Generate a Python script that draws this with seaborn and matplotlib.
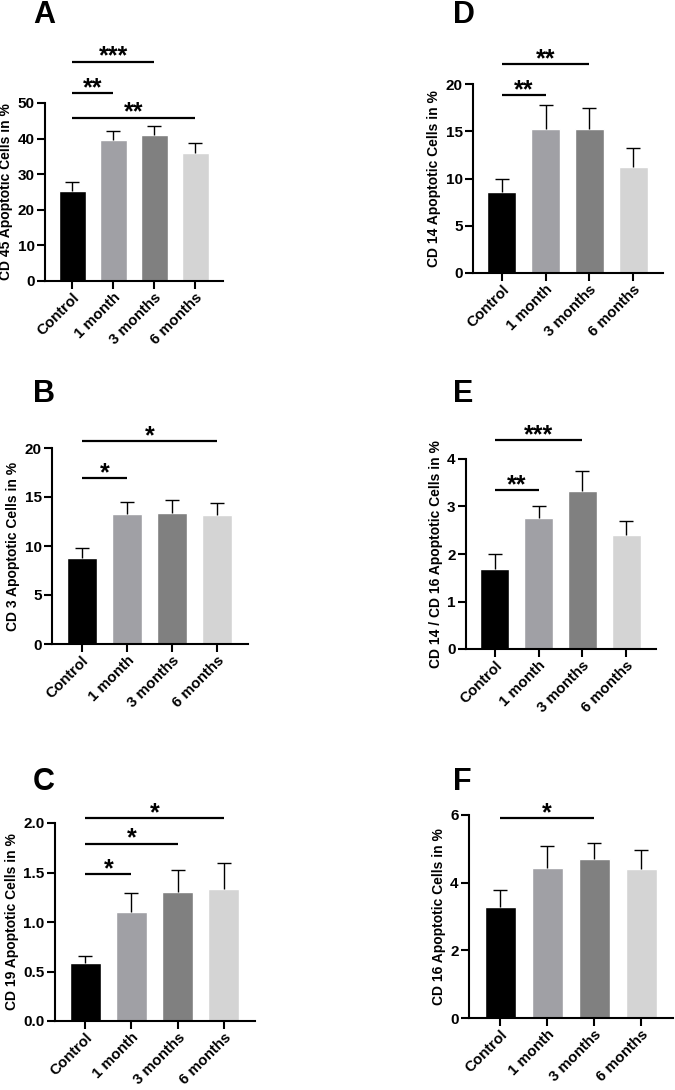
import numpy as np
import pandas as pd
import matplotlib
matplotlib.use('Agg')
import matplotlib.pyplot as plt
import seaborn as sns

## groups and colours
groups = ['Control', '1 month', '3 months', '6 months']
bar_colors = ['#000000', '#A0A0A5', '#808080', '#D4D4D4']

## means and upper error
cd45_mean = [25.4, 39.5, 41.0, 36.0]
cd45_err = [2.5, 2.7, 2.5, 2.7]
cd3_mean = [8.8, 13.3, 13.4, 13.2]
cd3_err = [1.0, 1.2, 1.3, 1.15]
cd19_mean = [0.585, 1.096, 1.30, 1.334]
cd19_err = [0.075, 0.195, 0.225, 0.266]
cd14_mean = [8.6, 15.2, 15.2, 11.2]
cd14_err = [1.4, 2.6, 2.3, 2.0]
cd1416_mean = [1.69, 2.76, 3.32, 2.40]
cd1416_err = [0.30, 0.25, 0.42, 0.29]
cd16_mean = [3.27, 4.43, 4.71, 4.41]
cd16_err = [0.51, 0.65, 0.46, 0.56]

## significance brackets: (from group, to group, height, label)
cd45_sig = [(0, 2, 61.6, '***'), (0, 1, 52.7, '**'), (0, 3, 45.9, '**')]
cd3_sig = [(0, 1, 16.9, '*'), (0, 3, 20.7, '*')]
cd19_sig = [(0, 1, 1.48, '*'), (0, 2, 1.79, '*'), (0, 3, 2.05, '*')]
cd14_sig = [(0, 1, 18.8, '**'), (0, 2, 22.1, '**')]
cd1416_sig = [(0, 1, 3.34, '**'), (0, 2, 4.40, '***')]
cd16_sig = [(0, 2, 5.9, '*')]

sns.set_style('ticks')
plt.rcParams['font.family'] = ['Liberation Sans', 'DejaVu Sans']
plt.rcParams['font.weight'] = 'bold'
plt.rcParams['axes.labelweight'] = 'bold'
for key in ['text.color', 'axes.labelcolor', 'xtick.color', 'ytick.color', 'axes.edgecolor']:
    plt.rcParams[key] = 'black'

W, H = 675, 1090
fig = plt.figure(figsize=(W / 100, H / 100), dpi=100)


def px_axes(left, right, top, bottom):
    # axes from pixel box
    return fig.add_axes([left / W, 1 - bottom / H, (right - left) / W, (bottom - top) / H])


def draw_panel(ax, means, errs, sig, ymax, step, ylabel, fmt=None):
    df = pd.DataFrame({'group': groups, 'value': means})
    sns.barplot(data=df, x='group', y='value', hue='group', palette=bar_colors,
                width=0.66, legend=False, ax=ax, saturation=1)
    eb = ax.errorbar(range(len(groups)), means, yerr=[np.zeros(len(errs)), errs],
                     fmt='none', ecolor='black', elinewidth=1.0, capsize=4.7, capthick=1.0)
    # only keep the upper cap
    eb[1][0].set_visible(False)
    ax.set_xlim(-0.66, 3.68)
    ax.set_ylim(0, ymax)
    ticks = np.arange(0, ymax + step / 2, step)
    ax.set_yticks(ticks)
    if fmt:
        ax.set_yticklabels([fmt.format(t) for t in ticks])
    ax.set_xlabel('')
    ax.set_ylabel(ylabel, fontsize=10, fontweight='bold', labelpad=3)
    sns.despine(ax=ax)
    for s in ['left', 'bottom']:
        ax.spines[s].set_linewidth(1.5)
    ax.tick_params(axis='both', width=1.5, length=5.5, pad=2)
    ax.tick_params(axis='y', labelsize=11)
    ax.tick_params(axis='x', pad=1)
    ax.set_xticks(range(len(groups)))
    ax.set_xticklabels(groups, rotation=45, ha='right', rotation_mode='anchor',
                       fontweight='bold', fontsize=10.8)
    for lab in ax.get_yticklabels():
        lab.set_fontweight('bold')
    for a, b, h, lab in sig:
        ax.plot([a, b], [h, h], color='black', lw=1.6, clip_on=False, solid_capstyle='butt')
        ax.annotate(lab, xy=((a + b) / 2, h), xytext=(0, -5), textcoords='offset points',
                    ha='center', va='bottom', fontsize=18, fontweight='bold', annotation_clip=False)


axA = px_axes(45, 223, 103, 281)
draw_panel(axA, cd45_mean, cd45_err, cd45_sig, 50, 10, 'CD 45 Apoptotic Cells in %')
axB = px_axes(52, 248, 448, 644)
draw_panel(axB, cd3_mean, cd3_err, cd3_sig, 20, 5, 'CD 3 Apoptotic Cells in %')
axC = px_axes(55, 255, 823, 1021)
draw_panel(axC, cd19_mean, cd19_err, cd19_sig, 2.0, 0.5, 'CD 19 Apoptotic Cells in %', '{:.1f}')
axD = px_axes(473, 663, 84, 273)
draw_panel(axD, cd14_mean, cd14_err, cd14_sig, 20, 5, 'CD 14 Apoptotic Cells in %')
axE = px_axes(466, 656, 459, 649)
draw_panel(axE, cd1416_mean, cd1416_err, cd1416_sig, 4, 1, 'CD 14 / CD 16 Apoptotic Cells in %')
axF = px_axes(469, 673, 815, 1018)
draw_panel(axF, cd16_mean, cd16_err, cd16_sig, 6, 2, 'CD 16 Apoptotic Cells in %')

## panel letters
for letter, x, y in [('A', 33, 23), ('B', 33, 402), ('C', 33, 790),
                     ('D', 453, 23), ('E', 453, 402), ('F', 453, 790)]:
    fig.text(x / W, 1 - y / H, letter, fontsize=22, fontweight='bold', ha='left', va='baseline')

fig.savefig('out.png', dpi=100)
